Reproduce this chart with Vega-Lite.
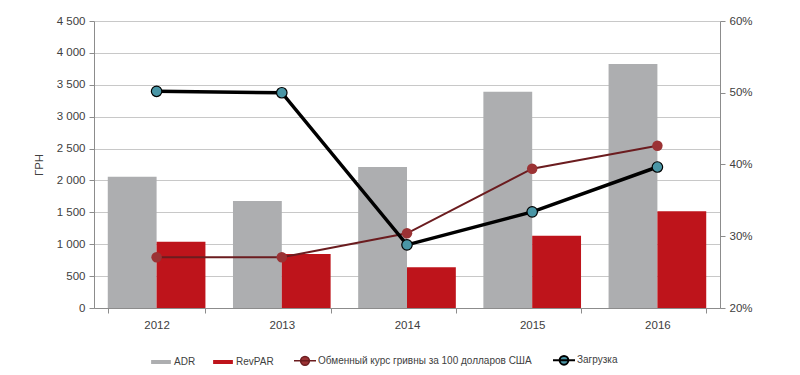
{
  "$schema": "https://vega.github.io/schema/vega-lite/v6.json",
  "autosize": {"type": "none"},
  "width": 626,
  "height": 287,
  "padding": {"left": 94, "top": 21, "right": 80, "bottom": 67},
  "background": "white",
  "config": {
    "font": "Liberation Sans",
    "view": {"stroke": null},
    "axis": {"labelFont": "Liberation Sans", "labelFontSize": 11.5, "labelColor": "#404040", "domainColor": "#8c8c8c", "tickColor": "#8c8c8c", "titleFont": "Liberation Sans", "titleFontWeight": "normal", "titleFontSize": 11.5, "titleColor": "#404040", "labelOverlap": false},
    "legend": {"labelFont": "Liberation Sans", "labelFontSize": 10, "labelColor": "#404040", "labelLimit": 0}
  },
  "data": {
    "values": [
      {"year": "2012", "ADR": 2059, "RevPAR": 1040, "rate": 795, "occ": 0.502},
      {"year": "2013", "ADR": 1678, "RevPAR": 847, "rate": 795, "occ": 0.500},
      {"year": "2014", "ADR": 2211, "RevPAR": 638, "rate": 1171, "occ": 0.288},
      {"year": "2015", "ADR": 3392, "RevPAR": 1134, "rate": 2184, "occ": 0.334},
      {"year": "2016", "ADR": 3826, "RevPAR": 1516, "rate": 2545, "occ": 0.3965}
    ]
  },
  "layer": [
    {
      "layer": [
        {
          "transform": [{"fold": ["ADR", "RevPAR"], "as": ["key", "value"]}],
          "mark": {"type": "bar"},
          "encoding": {
            "x": {"field": "year", "type": "nominal", "scale": {"paddingInner": 0.22, "paddingOuter": 0.11},
              "axis": {"title": null, "labelAngle": 0, "tickBand": "extent", "tickSize": 5, "labelPadding": 6, "grid": false}},
            "xOffset": {"field": "key", "type": "nominal", "sort": ["ADR", "RevPAR"], "scale": {"paddingInner": 0, "paddingOuter": 0}},
            "y": {"field": "value", "type": "quantitative", "title": "ГРН",
              "scale": {"domain": [0, 4500], "nice": false},
              "axis": {"values": [0,500,1000,1500,2000,2500,3000,3500,4000,4500], "labelOverlap": false, "labelExpr": "replace(format(datum.value, ','), ',', ' ')", "grid": true, "gridColor": "#c8c8c8", "tickSize": 5, "labelPadding": 4, "titlePadding": 12}},
            "color": {"field": "key", "type": "nominal",
              "scale": {"domain": ["ADR", "RevPAR", "Обменный курс гривны за 100 долларов США", "Загрузка"], "range": ["#adaeb0", "#be141b", "#9b3234", "#4a96a6"]},
              "legend": {"title": null, "orient": "none", "legendX": 62, "legendY": 334, "direction": "horizontal", "symbolSize": 484, "labelOffset": 8, "columnPadding": 17,
                "encode": {"symbols": {"update": {
                  "shape": {"signal": "datum.value === 'ADR' || datum.value === 'RevPAR' ? 'M-0.9,-0.18H0.9V0.18H-0.9Z' : 'M-1,0H1M0.4,0A0.4,0.4,0,1,1,-0.4,0A0.4,0.4,0,1,1,0.4,0Z'"},
                  "stroke": {"signal": "datum.value === 'ADR' ? '#adaeb0' : datum.value === 'RevPAR' ? '#be141b' : datum.value === 'Загрузка' ? '#000000' : '#6b1c1f'"},
                  "strokeWidth": {"signal": "datum.value === 'Загрузка' ? 2 : datum.value === 'ADR' || datum.value === 'RevPAR' ? 0 : 1.5"},
                  "opacity": {"value": 1}, "fillOpacity": {"value": 1}, "strokeOpacity": {"value": 1}
                }}}}}
          }
        },
        {
          "mark": {"type": "line", "strokeWidth": 2, "stroke": "#6b1c1f"},
          "encoding": {
            "x": {"field": "year", "type": "nominal"},
            "y": {"field": "rate", "type": "quantitative", "title": "ГРН",
              "axis": {"values": [0,500,1000,1500,2000,2500,3000,3500,4000,4500], "labelOverlap": false, "labelExpr": "replace(format(datum.value, ','), ',', ' ')", "grid": true, "gridColor": "#c8c8c8", "tickSize": 5, "labelPadding": 4, "titlePadding": 12}}
          }
        },
        {
          "mark": {"type": "point", "filled": true, "size": 110, "opacity": 1},
          "encoding": {
            "x": {"field": "year", "type": "nominal"},
            "y": {"field": "rate", "type": "quantitative", "title": "ГРН",
              "axis": {"values": [0,500,1000,1500,2000,2500,3000,3500,4000,4500], "labelOverlap": false, "labelExpr": "replace(format(datum.value, ','), ',', ' ')", "grid": true, "gridColor": "#c8c8c8", "tickSize": 5, "labelPadding": 4, "titlePadding": 12}},
            "color": {"datum": "Обменный курс гривны за 100 долларов США",
              "legend": {"title": null, "orient": "none", "legendX": 62, "legendY": 334, "direction": "horizontal", "symbolSize": 484, "labelOffset": 8, "columnPadding": 17,
                "encode": {"symbols": {"update": {
                  "shape": {"signal": "datum.value === 'ADR' || datum.value === 'RevPAR' ? 'M-0.9,-0.18H0.9V0.18H-0.9Z' : 'M-1,0H1M0.4,0A0.4,0.4,0,1,1,-0.4,0A0.4,0.4,0,1,1,0.4,0Z'"},
                  "stroke": {"signal": "datum.value === 'ADR' ? '#adaeb0' : datum.value === 'RevPAR' ? '#be141b' : datum.value === 'Загрузка' ? '#000000' : '#6b1c1f'"},
                  "strokeWidth": {"signal": "datum.value === 'Загрузка' ? 2 : datum.value === 'ADR' || datum.value === 'RevPAR' ? 0 : 1.5"},
                  "opacity": {"value": 1}, "fillOpacity": {"value": 1}, "strokeOpacity": {"value": 1}
                }}}}}
          }
        }
      ]
    },
    {
      "layer": [
        {
          "mark": {"type": "line", "strokeWidth": 3.5, "stroke": "#000000"},
          "encoding": {
            "x": {"field": "year", "type": "nominal"},
            "y": {"field": "occ", "type": "quantitative", "title": null,
              "scale": {"domain": [0.2, 0.6], "nice": false},
              "axis": {"orient": "right", "values": [0.2, 0.3, 0.4, 0.5, 0.6], "labelOverlap": false, "format": ".0%", "grid": false, "tickSize": 5, "labelPadding": 4}}
          }
        },
        {
          "mark": {"type": "point", "filled": true, "size": 110, "stroke": "#000000", "strokeWidth": 1.2, "opacity": 1},
          "encoding": {
            "x": {"field": "year", "type": "nominal"},
            "y": {"field": "occ", "type": "quantitative", "title": null,
              "axis": {"orient": "right", "values": [0.2, 0.3, 0.4, 0.5, 0.6], "labelOverlap": false, "format": ".0%", "grid": false, "tickSize": 5, "labelPadding": 4}},
            "color": {"datum": "Загрузка",
              "legend": {"title": null, "orient": "none", "legendX": 62, "legendY": 334, "direction": "horizontal", "symbolSize": 484, "labelOffset": 8, "columnPadding": 17,
                "encode": {"symbols": {"update": {
                  "shape": {"signal": "datum.value === 'ADR' || datum.value === 'RevPAR' ? 'M-0.9,-0.18H0.9V0.18H-0.9Z' : 'M-1,0H1M0.4,0A0.4,0.4,0,1,1,-0.4,0A0.4,0.4,0,1,1,0.4,0Z'"},
                  "stroke": {"signal": "datum.value === 'ADR' ? '#adaeb0' : datum.value === 'RevPAR' ? '#be141b' : datum.value === 'Загрузка' ? '#000000' : '#6b1c1f'"},
                  "strokeWidth": {"signal": "datum.value === 'Загрузка' ? 2 : datum.value === 'ADR' || datum.value === 'RevPAR' ? 0 : 1.5"},
                  "opacity": {"value": 1}, "fillOpacity": {"value": 1}, "strokeOpacity": {"value": 1}
                }}}}}
          }
        }
      ]
    }
  ],
  "resolve": {"scale": {"y": "independent"}}
}
